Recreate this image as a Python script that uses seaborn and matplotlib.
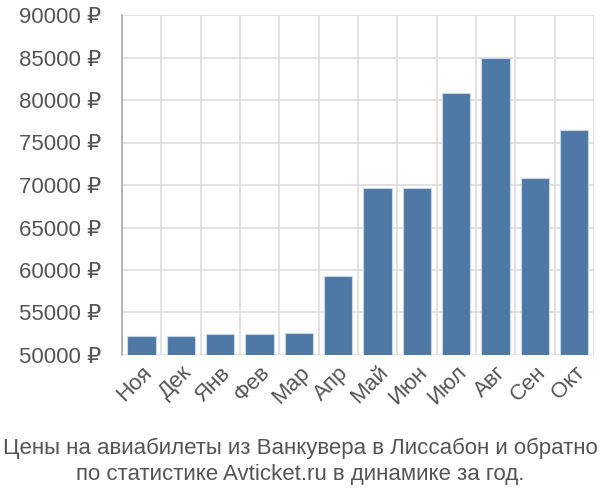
import seaborn as sns
import pandas as pd
import matplotlib.pyplot as plt
from matplotlib.ticker import FixedLocator, FuncFormatter

months = ['Ноя', 'Дек', 'Янв', 'Фев', 'Мар', 'Апр', 'Май', 'Июн', 'Июл', 'Авг', 'Сен', 'Окт']
prices = [52200, 52200, 52500, 52500, 52600, 59250, 69600, 69600, 80800, 85000, 70800, 76450]
title = 'Цены на авиабилеты из Ванкувера в Лиссабон и обратно\nпо статистике Avticket.ru в динамике за год.'


def main():
    df = pd.DataFrame({'month': months, 'price': prices})
    sns.set_style('white')
    plt.rcParams['font.family'] = ['Liberation Sans', 'DejaVu Sans']

    fig = plt.figure(figsize=(6, 5), dpi=100)
    ax = fig.add_axes([0.203, 0.29, 0.787, 0.68])
    sns.barplot(x='month', y='price', data=df, color='#4e79a7', saturation=1,
                width=0.72, edgecolor='#c9d6e6', linewidth=0.8, ax=ax, zorder=3)

    ax.set_ylim(50000, 90000)
    ax.set_xlim(-0.5, len(months) - 0.5)
    ax.set_yticks(range(50000, 90001, 5000))
    ax.yaxis.set_major_formatter(FuncFormatter(lambda v, p: f'{int(v)} ₽'))

    # category boundaries carry grid lines and ticks, labels sit in the middle
    ax.xaxis.set_major_locator(FixedLocator([i - 0.5 for i in range(len(months) + 1)]))
    ax.xaxis.set_major_formatter(FuncFormatter(lambda v, p: ''))
    ax.xaxis.set_minor_locator(FixedLocator(range(len(months))))
    ax.set_xticklabels(months, minor=True, rotation=45, ha='right', rotation_mode='anchor')
    ax.tick_params(axis='x', which='minor', length=0, pad=5, labelsize=16, labelcolor='#555555')
    ax.tick_params(axis='x', which='major', length=12, color='#dddddd', width=1.2)
    ax.tick_params(axis='y', length=20, color='#dddddd', width=1.2, labelsize=16,
                   labelcolor='#555555', pad=-5)

    ax.grid(True, color='#dddddd', linewidth=1.2, zorder=0)
    ax.set_axisbelow(True)
    for side in ['top', 'right', 'bottom']:
        ax.spines[side].set_visible(False)
    ax.spines['left'].set_color('#aaaaaa')
    ax.spines['left'].set_linewidth(1.2)
    ax.spines['left'].set_bounds(50000, 90000)
    ax.set_xlabel('')
    ax.set_ylabel('')

    fig.text(0.5, 0.03, title, ha='center', va='bottom', fontsize=16,
             color='#555555', linespacing=1.32)
    fig.savefig('out.png', dpi=100)


if __name__ == '__main__':
    main()
